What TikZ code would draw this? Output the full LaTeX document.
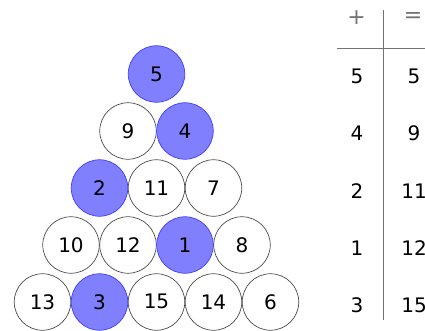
\documentclass[tikz,border=0pt]{standalone}
\usepackage{fontspec}
\setmainfont{DejaVu Sans}
\begin{document}
\begin{tikzpicture}[x=1pt,y=-1pt,
  ball/.style={circle,draw=black!70,line width=0.7pt,minimum size=56.5pt,inner sep=0pt,font=\fontsize{20}{20}\selectfont},
  hit/.style={ball,draw={rgb,255:red,60;green,60;blue,255},fill={rgb,255:red,128;green,128;blue,255}},
  cell/.style={inner sep=0pt,font=\fontsize{20}{20}\selectfont},
  head/.style={cell,text=black!55,font=\fontsize{22}{22}\selectfont},
  rule/.style={draw=black!55,line width=0.8pt}]
\useasboundingbox (0,0) rectangle (425,331);
% row 1
\node[hit] (b5) at (156.5,74) {5};
% row 2
\node[ball] (b9) at (128,131) {9};
\node[hit] (b4) at (185,131) {4};
% row 3
\node[hit] (b2) at (99.5,188) {2};
\node[ball] (b11) at (156.5,188) {11};
\node[ball] (b7) at (213.5,188) {7};
% row 4
\node[ball] (b10) at (71,245) {10};
\node[ball] (b12) at (128,245) {12};
\node[hit] (b1) at (185,245) {1};
\node[ball] (b8) at (242,245) {8};
% row 5
\node[ball] (b13) at (42.5,302) {13};
\node[hit] (b3) at (99.5,302) {\raisebox{-1.5pt}{3}};
\node[ball] (b15) at (156.5,302) {\raisebox{2pt}{15}};
\node[ball] (b14) at (213.5,302) {\raisebox{-1.5pt}{14}};
\node[ball] (b6) at (270.5,302) {\raisebox{-1.5pt}{6}};
% table
\coordinate (vt) at (383.5,10);
\coordinate (vb) at (383.5,320);
\coordinate (hl) at (337,48);
\coordinate (hr) at (425,48);
\draw[rule] (vt) -- (vb);
\draw[rule] (hl) -- (hr);
\node[head] (hp) at (356.5,18) {+};
\node[head] (he) at (413,18) {=};
\node[cell] (p1) at (357,76) {5};
\node[cell] (e1) at (414,76) {5};
\node[cell] (p2) at (357,133) {4};
\node[cell] (e2) at (414,133) {9};
\node[cell] (p3) at (357,191) {2};
\node[cell] (e3) at (414,191) {11};
\node[cell] (p4) at (357,248) {1};
\node[cell] (e4) at (414,248) {12};
\node[cell] (p5) at (357,305) {3};
\node[cell] (e5) at (414,305) {15};
\end{tikzpicture}
\end{document}
